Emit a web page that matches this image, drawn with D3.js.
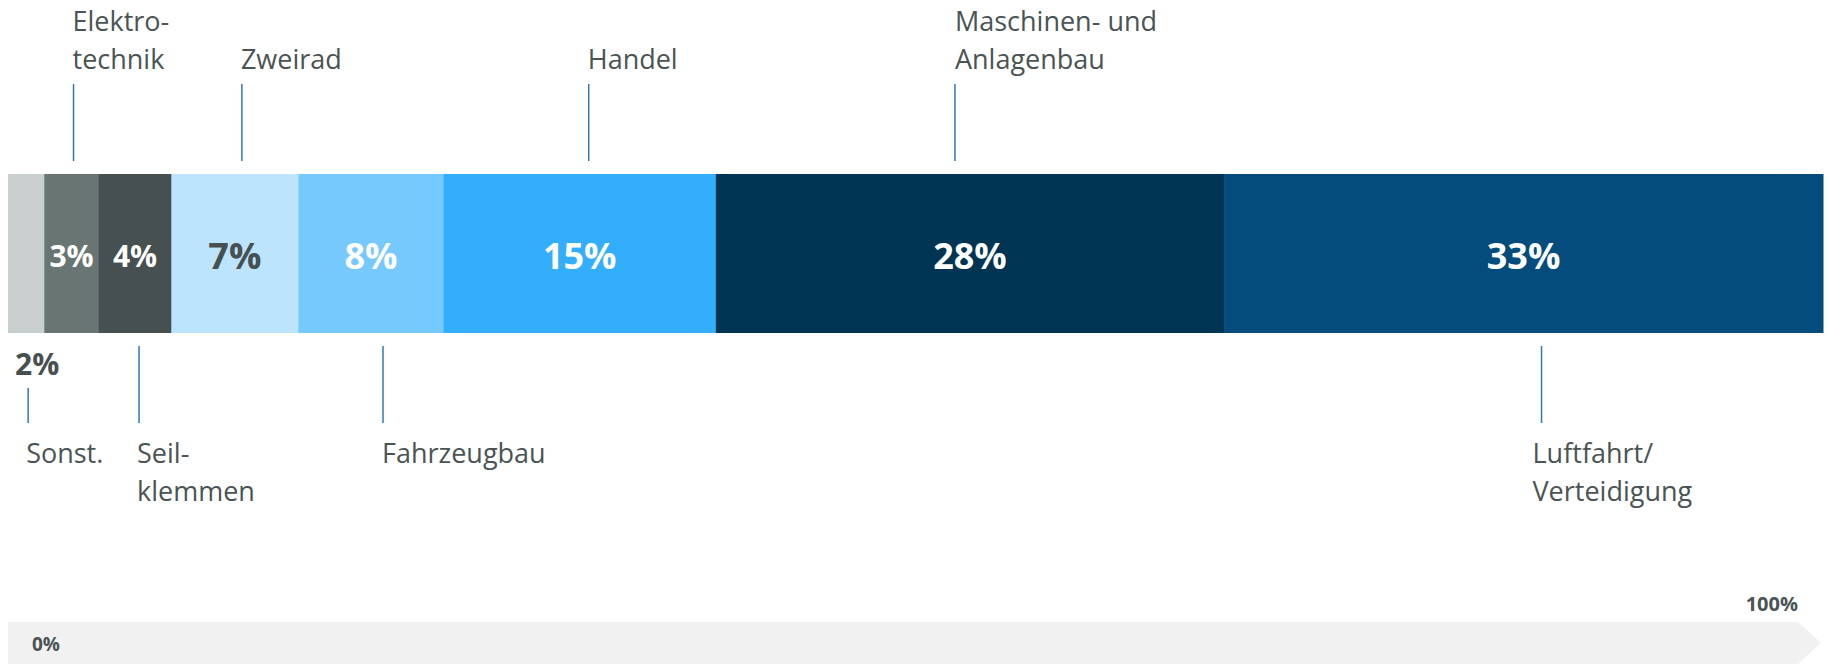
<!DOCTYPE html>
<html>
<head>
<meta charset="utf-8">
<script src="https://cdn.jsdelivr.net/npm/d3@7"></script>
<style>
  body { margin: 0; background: #fff; }
  text { font-family: "Open Sans", sans-serif; }
</style>
</head>
<body>
<div id="chart"></div>
<script>
// data
var categories = ["Sonst.", "Elektro-\ntechnik", "Seil-\nklemmen", "Zweirad", "Fahrzeugbau", "Handel", "Maschinen- und\nAnlagenbau", "Luftfahrt/\nVerteidigung"];
var values = [2, 3, 4, 7, 8, 15, 28, 33];
var axisLabels = ["0%", "100%"];

// layout / style (not data)
var colors = ["#c9cfcf", "#687573", "#465050", "#bde4fd", "#75c9fd", "#33aefd", "#003453", "#034c7b"];
var valueColors = ["#465050", "#fff", "#fff", "#465050", "#fff", "#fff", "#fff", "#fff"];
var side = ["bottom", "top", "bottom", "top", "bottom", "top", "top", "bottom"];
var leaderShift = [2, 2, 4, 7, 12, 9, -15, 18];
var textDx = [-2, -1, -2, -1, -1, -1, 0, -9];

var chart_width = 1829;
var chart_height = 665;
var bar_top = 174, bar_bottom = 333;
var textColor = "#4a5454";
var lineColor = "#2e78b6";

var svg = d3.select('#chart')
	.append('svg')
	.attr('width', chart_width)
	.attr('height', chart_height);

var x = d3.scaleLinear().domain([0, 100]).range([8, 1823]);

// cumulative starts
var starts = [];
var acc = 0;
values.forEach(function(v){ starts.push(acc); acc += v; });

var rows = values.map(function(v, i){
	return { name: categories[i], value: v, start: starts[i], i: i };
});

// bars
svg.selectAll('rect.seg')
	.data(rows)
	.enter()
	.append('rect')
	.attr('class', 'seg')
	.attr('x', function(d){ return x(d.start); })
	.attr('y', bar_top)
	.attr('width', function(d){ return x(d.start + d.value) - x(d.start) + 0.5; })
	.attr('height', bar_bottom - bar_top)
	.attr('fill', function(d){ return colors[d.i]; });

// value labels (the first one sits below the bar)
svg.selectAll('text.val')
	.data(rows)
	.enter()
	.append('text')
	.attr('class', 'val')
	.text(function(d){ return d.value + '%'; })
	.attr('x', function(d){
		if (d.i === 0) return 15;
		return x(d.start + d.value / 2);
	})
	.attr('y', function(d){
		if (d.i === 0) return 375;
		return d.value < 5 ? 267 : 269;
	})
	.attr('text-anchor', function(d){ return d.i === 0 ? 'start' : 'middle'; })
	.attr('font-weight', 'bold')
	.attr('font-size', function(d){ return d.value < 5 ? 30 : 36; })
	.attr('fill', function(d){ return valueColors[d.i]; });

function leaderX(d){
	return x(d.start + d.value / 2) + leaderShift[d.i];
}

// leader lines
svg.selectAll('line.leader')
	.data(rows)
	.enter()
	.append('line')
	.attr('class', 'leader')
	.attr('x1', leaderX)
	.attr('x2', leaderX)
	.attr('y1', function(d){
		if (side[d.i] === 'top') return 84;
		return d.i === 0 ? 388 : 346;
	})
	.attr('y2', function(d){ return side[d.i] === 'top' ? 161 : 423; })
	.attr('stroke', lineColor)
	.attr('stroke-width', 1.5);

// category labels
var lineH = 38;
var cat = svg.selectAll('text.cat')
	.data(rows)
	.enter()
	.append('text')
	.attr('class', 'cat')
	.attr('font-size', 27)
	.attr('fill', textColor);

cat.each(function(d){
	var lines = d.name.split('\n');
	var t = d3.select(this);
	var y0 = side[d.i] === 'top' ? 69 - (lines.length - 1) * lineH : 463;
	lines.forEach(function(s, k){
		t.append('tspan')
			.attr('x', leaderX(d) + textDx[d.i])
			.attr('y', y0 + k * lineH)
			.text(s);
	});
});

// bottom arrow
var ax0 = 8, ax1 = 1798, tip = 1821, ay0 = 622, ay1 = 664;
svg.append('path')
	.attr('d', 'M' + ax0 + ',' + ay0 + 'L' + ax1 + ',' + ay0 + 'L' + tip + ',' + ((ay0 + ay1) / 2) +
		'L' + ax1 + ',' + ay1 + 'L' + ax0 + ',' + ay1 + 'Z')
	.attr('fill', '#f1f1f1');

svg.append('text')
	.text(axisLabels[0])
	.attr('x', 32)
	.attr('y', 651)
	.attr('font-size', 19)
	.attr('font-weight', 'bold')
	.attr('fill', textColor);

svg.append('text')
	.text(axisLabels[1])
	.attr('x', 1798)
	.attr('y', 611)
	.attr('text-anchor', 'end')
	.attr('font-size', 20)
	.attr('font-weight', 'bold')
	.attr('fill', textColor);
</script>
</body>
</html>
